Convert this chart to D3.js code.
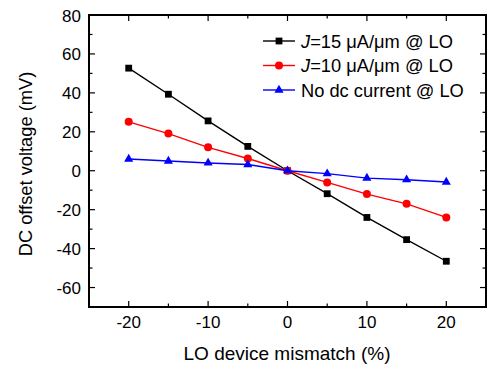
<!DOCTYPE html>
<html>
<head>
<meta charset="utf-8">
<script src="https://cdn.jsdelivr.net/npm/d3@7"></script>
<style>
  body { margin: 0; background: #fff; }
  text { font-family: "Liberation Sans", Arial, sans-serif; fill: #000; }
</style>
</head>
<body>
<svg id="chart" width="487" height="368"></svg>
<script>
// data
const mismatch = [-20, -15, -10, -5, 0, 5, 10, 15, 20];
const j15 = [52.7, 39.3, 25.6, 12.5, 0, -11.8, -24, -35.4, -46.5];
const j10 = [25.1, 19.1, 12, 6.3, 0, -6, -12, -17, -24];
const noDc = [6, 5, 4, 3.2, 0, -1.5, -3.8, -4.6, -5.8];
const xTicks = [-20, -10, 0, 10, 20];
const yTicks = [-60, -40, -20, 0, 20, 40, 60, 80];

const series = [
  { label: "=15 \u03bcA/\u03bcm @ LO", italic: "J", values: j15, color: "#000", shape: "square" },
  { label: "=10 \u03bcA/\u03bcm @ LO", italic: "J", values: j10, color: "#ff0000", shape: "circle" },
  { label: "No dc current @ LO", italic: "", values: noDc, color: "#0000ff", shape: "triangle" }
];

const svg = d3.select("#chart");
const mLeft = 89, mRight = 486, mTop = 15, mBottom = 307;

const x = d3.scaleLinear().domain([-25, 25]).range([mLeft, mRight]);
const y = d3.scaleLinear().domain([-70, 80]).range([mBottom, mTop]);

const g = svg.append("g");

// frame
g.append("rect")
  .attr("x", mLeft).attr("y", mTop)
  .attr("width", mRight - mLeft).attr("height", mBottom - mTop)
  .attr("fill", "none").attr("stroke", "#000").attr("stroke-width", 2);

// ticks, inward on all four sides
const xMinor = d3.range(-25, 26, 5);
const yMinor = d3.range(-70, 81, 10);
function tickLen(isMajor) { return isMajor ? 6 : 3.5; }

xMinor.forEach(v => {
  let L = tickLen(v % 10 === 0);
  g.append("line").attr("x1", x(v)).attr("x2", x(v)).attr("y1", mBottom).attr("y2", mBottom - L)
    .attr("stroke", "#000").attr("stroke-width", 1.2);
  g.append("line").attr("x1", x(v)).attr("x2", x(v)).attr("y1", mTop).attr("y2", mTop + L)
    .attr("stroke", "#000").attr("stroke-width", 1.2);
});
yMinor.forEach(v => {
  let L = tickLen(v % 20 === 0);
  g.append("line").attr("x1", mLeft).attr("x2", mLeft + L).attr("y1", y(v)).attr("y2", y(v))
    .attr("stroke", "#000").attr("stroke-width", 1.2);
  g.append("line").attr("x1", mRight).attr("x2", mRight - L).attr("y1", y(v)).attr("y2", y(v))
    .attr("stroke", "#000").attr("stroke-width", 1.2);
});

// tick labels
g.selectAll(".xl").data(xTicks).enter().append("text")
  .attr("x", d => x(d)).attr("y", 328)
  .attr("text-anchor", "middle").attr("font-size", 17)
  .text(d => d);
g.selectAll(".yl").data(yTicks).enter().append("text")
  .attr("x", 81).attr("y", d => y(d) + 6.5)
  .attr("text-anchor", "end").attr("font-size", 17)
  .text(d => d);

// axis titles
svg.append("text").attr("x", 287).attr("y", 360)
  .attr("text-anchor", "middle").attr("font-size", 19)
  .text("LO device mismatch (%)");
svg.append("text")
  .attr("transform", "translate(32,164) rotate(-90)")
  .attr("text-anchor", "middle").attr("font-size", 18.3)
  .text("DC offset voltage (mV)");

function marker(sel, shape, color) {
  if (shape === "square") {
    sel.append("rect").attr("x", -3.4).attr("y", -3.4).attr("width", 6.8).attr("height", 6.8).attr("fill", color);
  } else if (shape === "circle") {
    sel.append("circle").attr("r", 4).attr("fill", color);
  } else {
    sel.append("path").attr("d", d3.symbol(d3.symbolTriangle, 36)()).attr("fill", color);
  }
}

const line = d3.line().x((d, i) => x(mismatch[i])).y(d => y(d));

series.forEach(s => {
  g.append("path").datum(s.values)
    .attr("d", line)
    .attr("fill", "none").attr("stroke", s.color).attr("stroke-width", 1.4);
  s.values.forEach((v, i) => {
    let m = g.append("g").attr("transform", "translate(" + x(mismatch[i]) + "," + y(v) + ")");
    marker(m, s.shape, s.color);
  });
});

// legend
series.forEach((s, i) => {
  let ly = 41 + i * 24.5;
  let lg = svg.append("g").attr("transform", "translate(0," + ly + ")");
  lg.append("line").attr("x1", 263).attr("x2", 295).attr("y1", 0).attr("y2", 0)
    .attr("stroke", s.color).attr("stroke-width", 1.4);
  let m = lg.append("g").attr("transform", "translate(279,0)");
  marker(m, s.shape, s.color);
  let t = lg.append("text").attr("x", 301).attr("y", 6.5).attr("font-size", 18.3);
  if (s.italic) {
    t.append("tspan").attr("font-style", "italic").text(s.italic);
    t.append("tspan").text(s.label);
  } else {
    t.text(s.label);
  }
});
</script>
</body>
</html>
